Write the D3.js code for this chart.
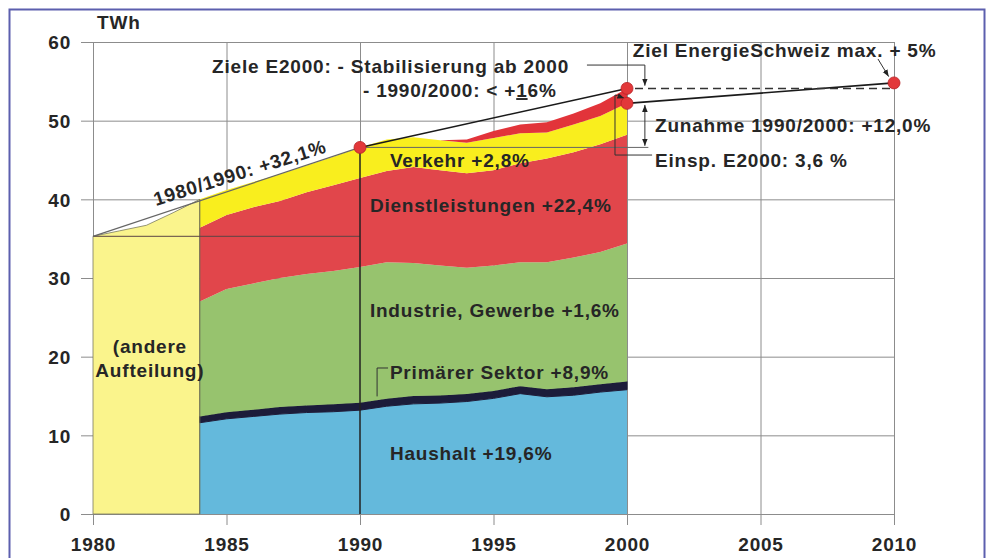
<!DOCTYPE html>
<html>
<head>
<meta charset="utf-8">
<script src="https://cdn.jsdelivr.net/npm/d3@7"></script>
<style>
body { margin: 0; background: #fff; }
text { font-family: Arial, "Liberation Sans", sans-serif; font-weight: bold; fill: #262626; font-size: 19px; letter-spacing: 0.8px; }
</style>
</head>
<body>
<div id="chart"></div>
<script>
// Elektrizitaetsverbrauch Schweiz nach Sektoren (TWh)
var years = [1984, 1985, 1986, 1987, 1988, 1989, 1990, 1991, 1992, 1993, 1994, 1995, 1996, 1997, 1998, 1999, 2000];
var haushalt   = [11.6, 12.1, 12.4, 12.7, 12.9, 13.0, 13.2, 13.7, 14.0, 14.1, 14.3, 14.7, 15.3, 14.9, 15.1, 15.5, 15.8];
var primaer    = [0.8, 0.85, 0.85, 0.9, 0.9, 0.95, 0.95, 0.95, 1.0, 0.95, 0.95, 0.95, 0.95, 0.95, 1.0, 1.0, 1.05];
var industrie  = [14.6, 15.65, 16.05, 16.4, 16.7, 16.95, 17.25, 17.35, 16.9, 16.55, 16.05, 15.95, 15.75, 16.15, 16.5, 16.8, 17.55];
var dienst     = [9.4, 9.4, 9.7, 9.8, 10.4, 10.9, 11.3, 11.6, 12.2, 12.1, 12.0, 12.1, 12.6, 13.2, 13.4, 13.7, 13.8];
var verkehr    = [3.6, 3.2, 3.2, 3.4, 3.4, 3.6, 3.9, 4.0, 3.8, 3.8, 3.9, 4.1, 3.8, 3.3, 3.5, 3.6, 4.0];
var einsparung = [0, 0, 0, 0, 0, 0, 0, 0, 0, 0, 0.4, 0.9, 1.1, 1.3, 1.4, 1.6, 1.9];

// 1980-1984 total only (andere Aufteilung)
var yearsAlt = [1980, 1981, 1982, 1983, 1984];
var totalAlt = [35.3, 36.0, 36.7, 38.3, 40.0];

// reference values
var total1980 = 35.3, total1990 = 46.6, ziel2000 = 54.1, ist2000 = 52.2, ziel2010 = 54.8;

var xTicks = [1980, 1985, 1990, 1995, 2000, 2005, 2010];
var yTicks = [0, 10, 20, 30, 40, 50, 60];

var W = 989, H = 558;
var svg = d3.select("#chart").append("svg").attr("width", W).attr("height", H);

var x = d3.scaleLinear().domain([1980, 2010]).range([93, 894]);
var y = d3.scaleLinear().domain([0, 60]).range([514, 42]);

var defs = svg.append("defs");
defs.append("marker").attr("id", "arr")
    .attr("viewBox", "0 0 10 10").attr("refX", 10).attr("refY", 5)
    .attr("markerWidth", 7).attr("markerHeight", 7).attr("orient", "auto-start-reverse")
    .append("path").attr("d", "M0,1 L10,5 L0,9 Z").attr("fill", "#222");

// frame
svg.append("rect").attr("x", 9.5).attr("y", 9.5).attr("width", 975).attr("height", 620)
    .attr("fill", "none").attr("stroke", "#5c5fae").attr("stroke-width", 2);

// grid + axes
var gy = svg.append("g").attr("transform", "translate(" + x(2010) + ",0)")
    .call(d3.axisLeft(y).tickValues(yTicks).tickSize(x(2010) - 81).tickPadding(10));
var gx = svg.append("g").attr("transform", "translate(0," + y(60) + ")")
    .call(d3.axisBottom(x).tickValues(xTicks).tickFormat(d3.format("d")).tickSize(525 - y(60)).tickPadding(13));
[gy, gx].forEach(function (g) {
    g.select(".domain").remove();
    g.selectAll("line").attr("stroke", "#8c8c8c");
    g.selectAll("text").attr("font-size", null).attr("font-family", null);
});
gy.selectAll("text").attr("dy", "0.36em");

svg.append("text").attr("x", x(1980.15)).attr("y", y(61.65)).text("TWh");

// 1980-1984 area
var altData = yearsAlt.map(function (yr, i) { return [yr, totalAlt[i]]; });
svg.append("path").datum(altData)
    .attr("d", d3.area().x(function (d) { return x(d[0]); }).y0(y(0)).y1(function (d) { return y(d[1]); }))
    .attr("fill", "#faf48c").attr("stroke", "#7a7a60").attr("stroke-width", 0.8);

// stacked sectors
var table = years.map(function (yr, i) {
    return { year: yr, haushalt: haushalt[i], primaer: primaer[i], industrie: industrie[i],
             dienst: dienst[i], verkehr: verkehr[i], einsparung: einsparung[i] };
});
var keys = ["haushalt", "primaer", "industrie", "dienst", "verkehr", "einsparung"];
var colors = { haushalt: "#64b9dc", primaer: "#1c1c3a", industrie: "#97c36e",
               dienst: "#e1464b", verkehr: "#f9ee1e", einsparung: "#e2343a" };
var series = d3.stack().keys(keys)(table);
var area = d3.area()
    .x(function (d) { return x(d.data.year); })
    .y0(function (d) { return y(d[0]); })
    .y1(function (d) { return y(d[1]); });
svg.append("g").selectAll("path").data(series).enter().append("path")
    .attr("d", area)
    .attr("fill", function (d) { return colors[d.key]; })
    .attr("stroke", function (d) { return d.key == "primaer" ? colors[d.key] : "none"; })
    .attr("stroke-width", 1);
svg.append("line").attr("x1", x(1984)).attr("x2", x(1984)).attr("y1", y(0)).attr("y2", y(totalAlt[4]))
    .attr("stroke", "#6a6a50").attr("stroke-width", 1);

// reference lines
var line = d3.line().x(function (d) { return x(d[0]); }).y(function (d) { return y(d[1]); });
function ref(pts, stroke, w, dash) {
    svg.append("path").datum(pts).attr("d", line).attr("fill", "none")
        .attr("stroke", stroke).attr("stroke-width", w).attr("stroke-dasharray", dash || null);
}
ref([[1980, total1980], [1990, total1980]], "#5a4444", 1);
ref([[1980, total1980], [1990, total1990]], "#666", 1.2);
ref([[1990, total1990], [1990, 0]], "#222", 1.5);
ref([[1990, total1990], [2000.8, total1990]], "#666", 1);
ref([[1990, total1990], [2000, ziel2000]], "#1a1a1a", 1.6);
ref([[2000, ist2000], [2010, ziel2010]], "#1a1a1a", 1.6);
ref([[2000.3, ziel2000], [2010, ziel2000]], "#333", 1.5, "8,5");

// annotation connectors
function conn(pts, start, end) {
    svg.append("path").datum(pts).attr("d", line).attr("fill", "none")
        .attr("stroke", "#333").attr("stroke-width", 1)
        .attr("marker-start", start ? "url(#arr)" : null)
        .attr("marker-end", end ? "url(#arr)" : null);
}
conn([[1998.5, 57.07], [2000.67, 57.07], [2000.67, 54.45]], false, true);
conn([[2009.4, 57.84], [2009.8, 55.6]], false, true);
conn([[2000.67, ist2000 - 0.2], [2000.67, total1990 + 0.2]], true, true);
conn([[2000.94, 45.63], [1999.55, 45.63], [1999.55, 53.26], [1999.9, 52.85]], false, true);
conn([[1991.05, 18.56], [1990.64, 18.56], [1990.64, 14.95]], false, false);

// dots
var dots = [[1990, total1990], [2000, ziel2000], [2000, ist2000], [2010, ziel2010]];
svg.append("g").selectAll("circle").data(dots).enter().append("circle")
    .attr("cx", function (d) { return x(d[0]); })
    .attr("cy", function (d) { return y(d[1]); })
    .attr("r", 6).attr("fill", "#e2383a").attr("stroke", "#b82226").attr("stroke-width", 0.8);

// labels
var labels = [
    { yr: 1984.46, v: 56.06, t: "Ziele E2000: - Stabilisierung ab 2000" },
    { yr: 1991.12, v: 44.11, t: "Verkehr +2,8%" },
    { yr: 1990.37, v: 38.39, t: "Dienstleistungen +22,4%" },
    { yr: 1990.37, v: 25.04, t: "Industrie, Gewerbe +1,6%" },
    { yr: 1991.12, v: 17.16, t: "Primärer Sektor +8,9%" },
    { yr: 1991.12, v: 6.86, t: "Haushalt +19,6%" },
    { yr: 2000.22, v: 58.09, t: "Ziel EnergieSchweiz max. + 5%" },
    { yr: 2001.05, v: 48.56, t: "Zunahme 1990/2000: +12,0%" },
    { yr: 2001.05, v: 44.11, t: "Einsp. E2000: 3,6 %" }
];
svg.append("g").selectAll("text").data(labels).enter().append("text")
    .attr("x", function (d) { return x(d.yr); })
    .attr("y", function (d) { return y(d.v); })
    .text(function (d) { return d.t; });

var l2 = svg.append("text").attr("x", x(1990.11)).attr("y", y(53.0));
l2.append("tspan").text("- 1990/2000: < +");
l2.append("tspan").attr("text-decoration", "underline").text("1");
l2.append("tspan").text("6%");

svg.append("text").attr("x", x(1982.13)).attr("y", y(20.47)).attr("text-anchor", "middle").text("(andere");
svg.append("text").attr("x", x(1982.13)).attr("y", y(17.41)).attr("text-anchor", "middle").text("Aufteilung)");

svg.append("text")
    .attr("transform", "translate(" + x(1982.36) + "," + y(39.15) + ") rotate(-17.5)")
    .text("1980/1990: +32,1%");
</script>
</body>
</html>
